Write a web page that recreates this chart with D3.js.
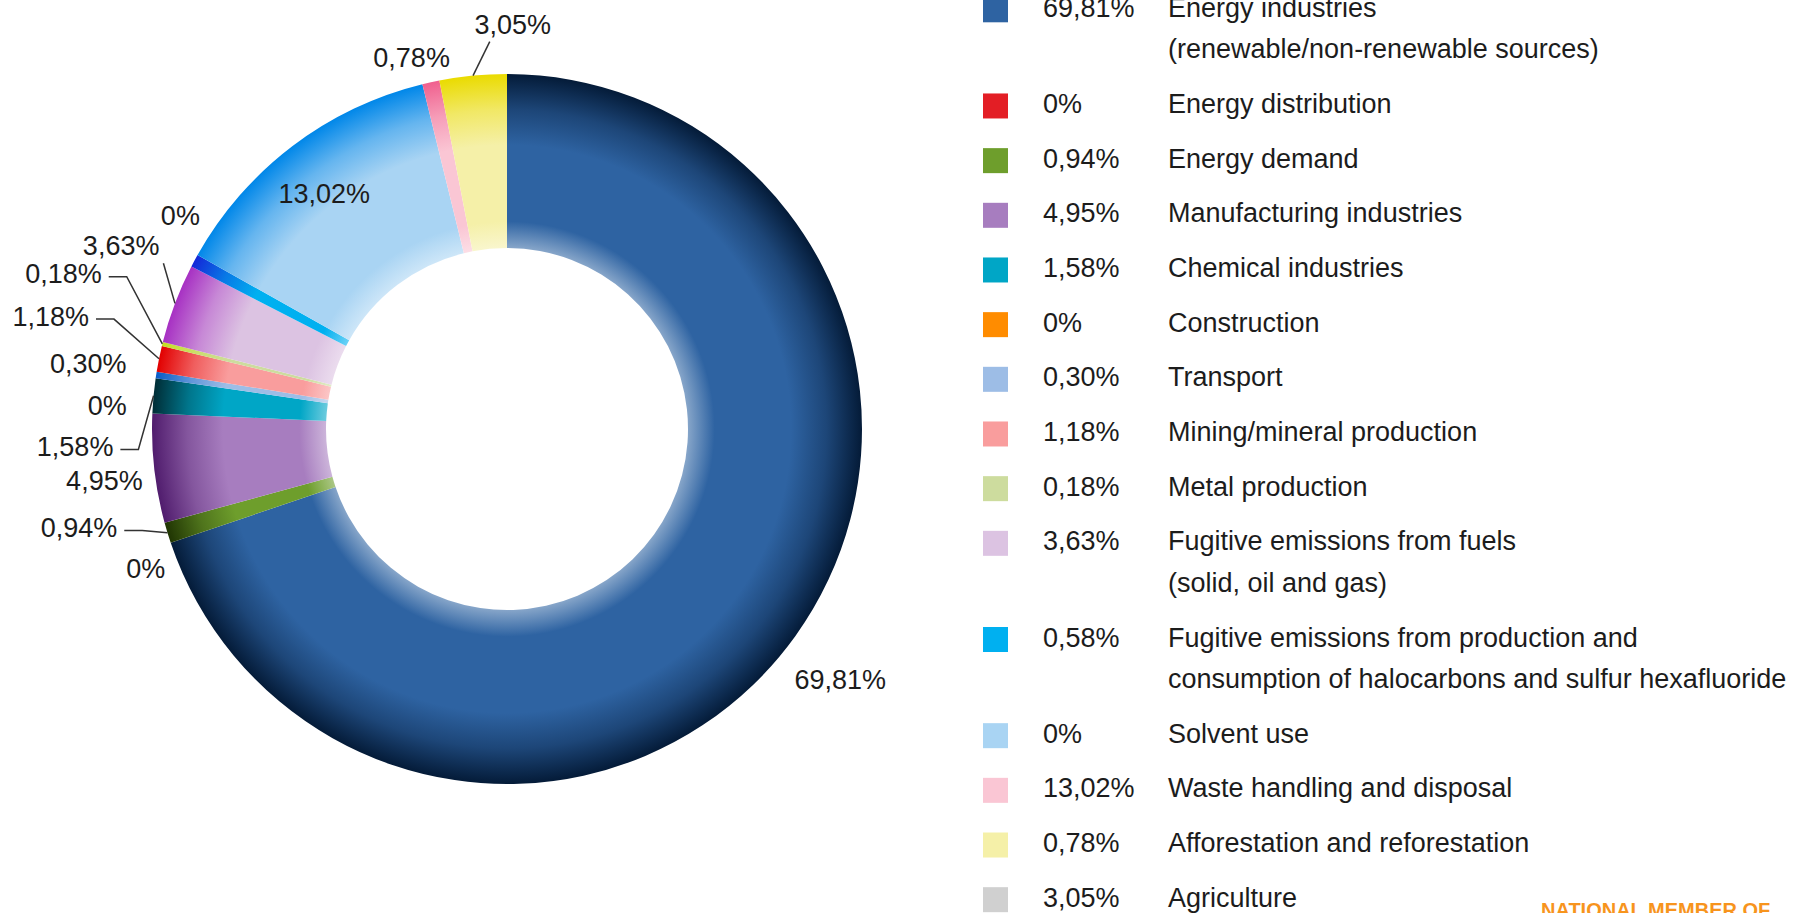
<!DOCTYPE html>
<html>
<head>
<meta charset="utf-8">
<script src="https://cdn.jsdelivr.net/npm/d3@7"></script>
<style>
html,body{margin:0;padding:0;background:#fff;overflow:hidden;}
svg{display:block;}
</style>
</head>
<body>
<svg id="chart" width="1817" height="913"></svg>
<script>
// ---------- DATA ----------
const categories = [
  "Energy industries\n(renewable/non-renewable sources)",
  "Energy distribution",
  "Energy demand",
  "Manufacturing industries",
  "Chemical industries",
  "Construction",
  "Transport",
  "Mining/mineral production",
  "Metal production",
  "Fugitive emissions from fuels\n(solid, oil and gas)",
  "Fugitive emissions from production and\nconsumption of halocarbons and sulfur hexafluoride",
  "Solvent use",
  "Waste handling and disposal",
  "Afforestation and reforestation",
  "Agriculture"
];
// values printed in the legend
const legendValues = [69.81, 0, 0.94, 4.95, 1.58, 0, 0.30, 1.18, 0.18, 3.63, 0.58, 0, 13.02, 0.78, 3.05];
// slice sizes as drawn in the donut (one per category, same order)
const sliceValues  = [69.81, 0, 0.94, 4.95, 1.58, 0, 0.30, 1.18, 0.18, 3.63, 0.58, 13.02, 0.78, 3.05, 0];
// labels printed next to the slices (null = no label)
const sliceLabels  = [69.81, 0, 0.94, 4.95, 1.58, 0, 0.30, 1.18, 0.18, 3.63, 0, 13.02, 0.78, 3.05, null];
const footerText = "NATIONAL MEMBER OF";

// ---------- STYLE / LAYOUT ----------
const palette = ["#2e63a2","#e31e25","#6e9e2c","#a77dbf","#00a6c6","#ff8c00","#9dbde6","#f99d9d",
                 "#cddc9e","#dcc3e2","#00b0f0","#a9d4f3","#fac6d4","#f5f0a8","#d0d0d0"];
// outer-rim shade overrides (otherwise derived from the base colour)
const edgeOverride = {8: "#c6e020", 10: "#1428d8", 12: "#f0608e"};
// annotation placement per slice: [angle shift from slice middle (deg), distance from centre, anchor, leader]
const labelPlacement = [
  [1.3, 417, "middle", null],
  [-3.5, 369, "end", null],
  [2.8, 402, "end", "elbow"],
  [-1.7, 368, "end", null],
  [-7.9, 394, "end", "elbow"],
  [-4.7, 381, "end", null],
  [1.0, 386, "end", null],
  [3.7, 433, "end", "elbow"],
  [7.1, 434, "end", "elbow"],
  [7.1, 393, "end", "direct"],
  [6.5, 374, "end", null],
  [-0.6, 298, "middle", null],
  [-2.0, 384, "middle", null],
  [6.3, 405, "middle", "direct"],
  [0, 0, "middle", null]
];

const W = 1817, H = 913;
const cx = 507, cy = 429, outerR = 355, innerR = 181;
const FONT = "'Liberation Sans', Arial, sans-serif";
const fmt = v => v === 0 ? "0%" : d3.format(".2f")(v).replace(".", ",") + "%";

const svg = d3.select("#chart");
const color = d3.scaleOrdinal().domain(d3.range(categories.length)).range(palette);

// gradients (radial shading of the ring)
const defs = svg.append("defs");
function edgeColor(i) {
  if (edgeOverride[i]) return edgeOverride[i];
  const h = d3.hsl(color(i));
  return d3.hsl(h.h, Math.min(1, (h.s || 0) * 1.3 + 0.15), h.l * h.l * 0.7).formatHex();
}
categories.forEach((_, i) => {
  const base = color(i), edge = edgeColor(i);
  const g = defs.append("radialGradient")
    .attr("id", "grad" + i).attr("gradientUnits", "userSpaceOnUse")
    .attr("cx", 0).attr("cy", 0).attr("r", outerR);
  const f0 = innerR / outerR;
  [[f0, d3.interpolateRgb(base, "#ffffff")(0.42)],
   [f0 + 0.075, base],
   [0.80, base],
   [0.90, d3.interpolateRgb(base, edge)(0.4)],
   [1.0, edge]].forEach(([o, c]) => g.append("stop").attr("offset", o).attr("stop-color", c));
});

// ---------- DONUT ----------
const pie = d3.pie().sort(null).value(d => d.v).startAngle(0).endAngle(2 * Math.PI);
const arcs = pie(sliceValues.map((v, i) => ({v, i})));
const arc = d3.arc().innerRadius(innerR).outerRadius(outerR);

const g = svg.append("g").attr("transform", `translate(${cx},${cy})`);
g.selectAll("path.slice").data(arcs).join("path")
  .attr("class", "slice")
  .attr("d", arc)
  .attr("fill", d => `url(#grad${d.data.i})`);

const polar = (deg, r) => [r * Math.sin(deg * Math.PI / 180), -r * Math.cos(deg * Math.PI / 180)];
const midDeg = d => ((d.startAngle + d.endAngle) / 2) * 180 / Math.PI;

const leaderG = g.append("g");
const labelG = g.append("g");
arcs.forEach(d => {
  const i = d.data.i;
  const lv = sliceLabels[i];
  if (lv === null || lv === undefined) return;
  const [dDeg, r, anchor, leader] = labelPlacement[i];
  const [lx, ly] = polar(midDeg(d) + dDeg, r);
  const t = labelG.append("text")
    .attr("x", lx).attr("y", ly).attr("dy", "0.358em")
    .attr("text-anchor", anchor)
    .attr("font-family", FONT).attr("font-size", 27).attr("fill", "#1c1c1c")
    .text(fmt(lv));
  if (!leader) return;
  const P = polar(midDeg(d), outerR);
  const bb = t.node().getBBox();
  let pts;
  if (leader === "elbow") {
    const sx = bb.x + bb.width + 7, sy = ly + 3;
    pts = [[sx, sy], [sx + 18, sy], P];
  } else {
    const sx = Math.max(bb.x + 0.2 * bb.width, Math.min(P[0], bb.x + bb.width + 4));
    const sy = bb.y + bb.height + 2;
    pts = [[sx, sy], P];
  }
  leaderG.append("path")
    .attr("d", d3.line()(pts))
    .attr("fill", "none").attr("stroke", "#333").attr("stroke-width", 1.5);
});

// ---------- LEGEND ----------
const legend = svg.append("g");
const swX = 983, valX = 1043, labX = 1168;
const entryStep = 54.67, lineStep = 41.5;
let baseline = 16.8;
categories.forEach((name, i) => {
  const lines = name.split("\n");
  legend.append("rect")
    .attr("x", swX).attr("y", baseline - 19.5).attr("width", 25).attr("height", 25)
    .attr("fill", color(i));
  legend.append("text")
    .attr("x", valX).attr("y", baseline)
    .attr("font-family", FONT).attr("font-size", 27).attr("fill", "#1c1c1c")
    .text(fmt(legendValues[i]));
  const t = legend.append("text")
    .attr("font-family", FONT).attr("font-size", 27).attr("fill", "#1c1c1c");
  lines.forEach((ln, k) => {
    t.append("tspan").attr("x", labX).attr("y", baseline + k * lineStep).text(ln);
  });
  baseline += (lines.length - 1) * lineStep + entryStep;
});

svg.append("text")
  .attr("x", 1541).attr("y", 917)
  .attr("font-family", FONT).attr("font-size", 20).attr("font-weight", "bold")
  .attr("fill", "#f7941d")
  .text(footerText);
</script>
</body>
</html>
